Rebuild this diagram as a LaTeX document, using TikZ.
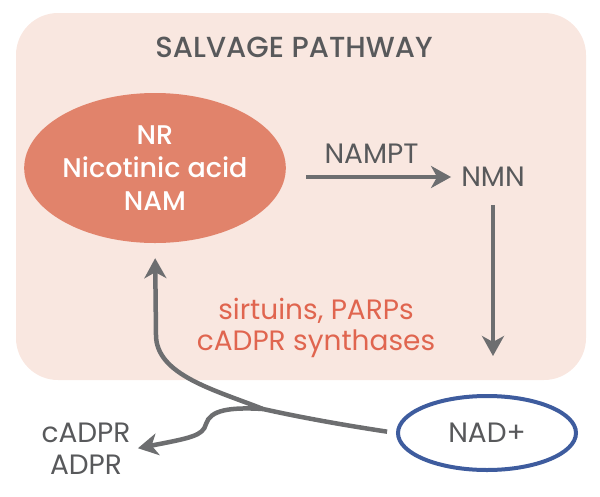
\documentclass[tikz,border=0pt]{standalone}
\usepackage{fontspec}
\setmainfont{Poppins}
\newfontfamily\medfont{Poppins Medium}
\usepackage{tikz}
\usetikzlibrary{shapes,arrows.meta,positioning}
\definecolor{peach}{HTML}{F9E7E0}
\definecolor{salmon}{HTML}{E1836B}
\definecolor{txtgray}{HTML}{58595B}
\definecolor{arrgray}{HTML}{6D6E70}
\definecolor{enzred}{HTML}{E0654F}
\definecolor{nadblue}{HTML}{3E5C9E}
\tikzset{x=1pt,y=-1pt,>={Stealth[length=20pt,width=22pt,inset=6pt]},
  every node/.style={text=txtgray,align=center,font=\fontsize{28}{32}\selectfont},
  flow/.style={->,draw=arrgray,line width=4.5pt}}

\begin{document}
\begin{tikzpicture}
    \useasboundingbox (0,0) rectangle (600,496);
    \fill[peach,rounded corners=42pt] (16,13) rectangle (586,380);
    \node[font=\medfont\fontsize{29}{32}\selectfont] (title) at (294,47) {SALVAGE PATHWAY};
    \node[ellipse,fill=salmon,minimum width=258pt,minimum height=150pt,inner sep=0pt,
      text=white,font=\medfont\fontsize{27}{33}\selectfont] (src) at (155,168) {NR\\Nicotinic acid\\NAM};
    \node[inner sep=4pt] (nmn) at (493,177) {NMN};
    \node[ellipse,draw=nadblue,line width=4pt,minimum width=178pt,minimum height=74pt] (nad) at (487,433) {NAD+};
    \node[text=enzred,font=\fontsize{28}{31}\selectfont] (enz) at (316,328) {sirtuins, PARPs\\cADPR synthases};
    \node (cadpr) at (86,449) {cADPR\\ADPR};
    \coordinate (fork) at (263,409);
    \draw[flow,shorten <=20pt,shorten >=6pt] (src.east |- nmn) -- node[above=8pt] {NAMPT} (nmn);
    \draw[flow,shorten <=14pt,shorten >=38pt] (nmn.south) -- (nmn.south |- nad.north);
    \draw[flow,shorten <=9pt,shorten >=15pt] (nad.west) .. controls (330,423) and (290,415) .. (fork)
      .. controls (215,390) and (156,375) .. (156,335) -- (src.south);
    \draw[flow,shorten >=4pt] (fork) .. controls (230,407) and (210,410) .. (206,424)
      .. controls (203,436) and (190,438) .. (cadpr.east);
\end{tikzpicture}
\end{document}
